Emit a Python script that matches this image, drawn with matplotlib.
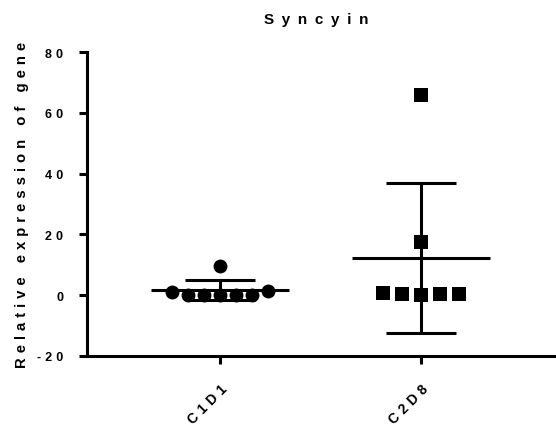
import numpy as np
import matplotlib
matplotlib.use("Agg")
import matplotlib.pyplot as plt

categories = ["C1D1", "C2D8"]
c1d1_values = [1.1, 0.2, 0.2, 0.2, 0.2, 0.2, 1.4, 9.5]
c2d8_values = [0.8, 0.3, 0.0, 0.3, 0.5, 17.4, 66.0]
yticks = [-20, 0, 20, 40, 60, 80]
ytick_labels = ["-20", "0", "20", "40", "60", "80"]
title_text = "Syncyin"
ylabel_text = "Relative expression of gene"

plt.rcParams['font.family'] = ['Liberation Sans', 'DejaVu Sans']
plt.rcParams['font.weight'] = 'bold'


def spaced(s, sep):
    words = s.split(" ")
    return (sep + " " + sep).join(sep.join(w) for w in words)


fig = plt.figure(figsize=(5.56, 4.31), dpi=100)
ax = fig.add_axes([87/556, 1 - 357/431, 1 - 87/556, 304/431])


def swarm_offsets(vals, spacing, tol=2.5):
    vals = np.asarray(vals, float)
    offs = np.zeros(len(vals))
    used = np.zeros(len(vals), bool)
    for i in range(len(vals)):
        if used[i]:
            continue
        grp = [j for j in range(len(vals)) if not used[j] and abs(vals[j] - vals[i]) < tol]
        for k, j in enumerate(grp):
            offs[j] = (k - (len(grp) - 1) / 2) * spacing
            used[j] = True
    return offs


groups = [(c1d1_values, 'o', 0.08, 10), (c2d8_values, 's', 0.095, 9.5)]
for i, (vals, mk, sp, ms) in enumerate(groups):
    xc = i + 1
    v = np.asarray(vals)
    offs = swarm_offsets(v, sp)
    ax.plot(xc + offs, v, linestyle='none', marker=mk, color='black',
            markersize=ms, markeredgewidth=0, zorder=3)
    m = v.mean()
    sd = v.std(ddof=1)
    ax.plot([xc - 0.345, xc + 0.345], [m, m], color='black', lw=2.2, zorder=4, solid_capstyle='butt')
    ax.plot([xc, xc], [m - sd, m + sd], color='black', lw=2.2, zorder=4, solid_capstyle='butt')
    for yy in (m - sd, m + sd):
        ax.plot([xc - 0.175, xc + 0.175], [yy, yy], color='black', lw=2.2, zorder=4, solid_capstyle='butt')

ax.set_xlim(0.338, 2.672)
ax.set_ylim(-20, 80)
ax.set_yticks(yticks)
ax.set_yticklabels([spaced(t, "\u2004") for t in ytick_labels], fontsize=9, fontweight='bold')
ax.set_xticks([1, 2])
ax.set_xticklabels([spaced(c, "\u2004") for c in categories], rotation=45, ha='right',
                   rotation_mode='anchor', fontsize=10, fontweight='bold')
for s in ['top', 'right']:
    ax.spines[s].set_visible(False)
for s in ['left', 'bottom']:
    ax.spines[s].set_linewidth(2.2)
ax.tick_params(axis='both', length=6, width=2.2, direction='out')
ax.tick_params(axis='y', pad=11)
ax.tick_params(axis='x', pad=12)

fig.text(316 / 556, 1 - 24 / 431, spaced(title_text, "\u2002"),
         ha='center', va='baseline', fontsize=11, fontweight='bold')
ax.set_ylabel(spaced(ylabel_text, "\u2004"), fontsize=10.7, fontweight='bold')
ax.yaxis.set_label_coords((29 - 87) / 469, 0.5)

fig.savefig("out.png", dpi=100)
